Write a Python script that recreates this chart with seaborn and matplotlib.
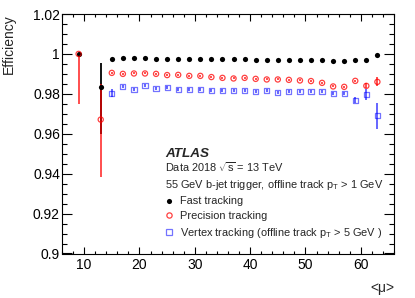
import numpy as np
import pandas as pd
import matplotlib
matplotlib.use("Agg")
import matplotlib.pyplot as plt
import seaborn as sns
from matplotlib.ticker import MultipleLocator, FuncFormatter
from matplotlib.lines import Line2D

# pile-up bins
mu_low = [9, 13]
mu_main = list(range(15, 64, 2))

# Fast tracking (black)
fast = [1.0, 0.9835,
        0.9974, 0.9979, 0.9978, 0.9979, 0.9976, 0.9976, 0.9976, 0.9974, 0.9973,
        0.9974, 0.9974, 0.9974, 0.9974, 0.9971, 0.9971, 0.9971, 0.9971, 0.9971,
        0.9968, 0.9968, 0.9963, 0.9964, 0.9969, 0.9971, 0.9994]
fast_lo = [0.0, 0.0235] + [0.0003] * 24 + [0.001]
fast_hi = [0.0, 0.0117] + [0.0003] * 24 + [0.0005]

# Precision tracking (red)
prec = [1.0, 0.9671,
        0.9905, 0.9900, 0.9902, 0.9902, 0.9900, 0.9894, 0.9895, 0.9890, 0.9890,
        0.9884, 0.9880, 0.9877, 0.9880, 0.9875, 0.9872, 0.9872, 0.9870, 0.9867,
        0.9864, 0.9855, 0.9837, 0.9835, 0.9865, 0.9840, 0.9860]
prec_lo = [0.025, 0.029] + [0.0005] * 23 + [0.0012, 0.0023]
prec_hi = [0.0, 0.018] + [0.0005] * 23 + [0.0012, 0.0023]

# Vertex tracking (blue), starts at mu = 15
vtx = [0.9802, 0.9835, 0.9822, 0.9840, 0.9825, 0.9833, 0.9823, 0.9820, 0.9822,
       0.9815, 0.9817, 0.9818, 0.9818, 0.9813, 0.9818, 0.9808, 0.9813, 0.9810,
       0.9810, 0.9810, 0.9800, 0.9803, 0.9767, 0.9795, 0.9691]
vtx_err = [0.002] + [0.0008] * 21 + [0.0015, 0.0027, 0.0065]

mu_all = mu_low + mu_main
df_fast = pd.DataFrame({"mu": mu_all, "eff": fast})
df_prec = pd.DataFrame({"mu": mu_all, "eff": prec})
df_vtx = pd.DataFrame({"mu": mu_main, "eff": vtx})

sns.set_theme(style="ticks")
plt.rcParams["font.family"] = ["Liberation Sans", "DejaVu Sans"]
plt.rcParams["mathtext.fontset"] = "custom"
plt.rcParams["mathtext.rm"] = "Liberation Sans"
plt.rcParams["mathtext.it"] = "Liberation Sans:italic"

red = (1.0, 0.0, 0.0, 0.75)
blue = (0.0, 0.0, 1.0, 0.55)

fig = plt.figure(figsize=(4.15, 2.98), dpi=100)
ax = fig.add_axes([62 / 415, 1 - 253.5 / 298, 332 / 415, 239.5 / 298])

# error bars
ax.errorbar(mu_all, fast, yerr=[fast_lo, fast_hi], fmt="none", ecolor="black", elinewidth=1.3, capsize=0, zorder=2)
ax.errorbar(mu_all, prec, yerr=[prec_lo, prec_hi], fmt="none", ecolor=red, elinewidth=1.3, capsize=0, zorder=3)
ax.errorbar(mu_main, vtx, yerr=vtx_err, fmt="none", ecolor=(0, 0, 1, 0.7), elinewidth=1.2, capsize=0, zorder=4)

# markers
sns.scatterplot(data=df_fast, x="mu", y="eff", ax=ax, color="black", marker="o", s=14, linewidth=0, zorder=5)
sns.scatterplot(data=df_prec, x="mu", y="eff", ax=ax, marker="o", s=14, facecolor="none", edgecolor=red, linewidth=0.9, zorder=6)
sns.scatterplot(data=df_vtx, x="mu", y="eff", ax=ax, marker="s", s=14, facecolor="none", edgecolor=blue, linewidth=0.9, zorder=7)

ax.set_xlim(6, 66)
ax.set_ylim(0.9, 1.02)
ax.xaxis.set_major_locator(MultipleLocator(10))
ax.xaxis.set_minor_locator(MultipleLocator(2))
ax.yaxis.set_major_locator(MultipleLocator(0.02))
ax.yaxis.set_minor_locator(MultipleLocator(0.005))
ax.yaxis.set_major_formatter(FuncFormatter(lambda v, p: "%g" % round(v, 3)))
ax.xaxis.set_major_formatter(FuncFormatter(lambda v, p: "%g" % v))

ax.tick_params(axis="both", which="both", direction="in", top=True, right=True, colors="black", width=0.8)
ax.tick_params(axis="y", which="major", length=7.2, pad=1.5, labelsize=10)
ax.tick_params(axis="y", which="minor", length=3.6)
ax.tick_params(axis="x", which="major", length=5, pad=3, labelsize=10)
ax.tick_params(axis="x", which="minor", length=2.5)
for sp in ax.spines.values():
    sp.set_linewidth(0.8)
    sp.set_color("black")

ax.set_ylabel("Efficiency", fontsize=10, loc="top")
ax.yaxis.set_label_coords(-0.139, 1.0)
ax.set_xlabel("<μ>", fontsize=10, loc="right")
ax.xaxis.set_label_coords(1.0, -0.115)

fig.text(165 / 415, 1 - 157 / 298, "ATLAS", fontsize=9.7, fontweight="bold", fontstyle="italic", va="baseline")
fig.text(165 / 415, 1 - 172.3 / 298, r"Data 2018 $\sqrt{\mathrm{s}}$ = 13 TeV", fontsize=7.9, va="baseline")
fig.text(165 / 415, 1 - 187.7 / 298, r"55 GeV b-jet trigger, offline track p$_{\mathrm{T}}$ > 1 GeV", fontsize=7.9, va="baseline")

handles = [
    Line2D([], [], ls="none", marker="o", color="black", markersize=3.7, markeredgewidth=0),
    Line2D([], [], ls="none", marker="o", markerfacecolor="none", markeredgecolor=red, markersize=3.8, markeredgewidth=0.9),
    Line2D([], [], ls="none", marker="s", markerfacecolor="none", markeredgecolor=blue, markersize=3.8, markeredgewidth=0.9),
]
labels = ["Fast tracking", "Precision tracking",
          r"Vertex tracking (offline track p$_{\mathrm{T}}$ > 5 GeV )"]
ax.legend(handles, labels, loc="upper left", bbox_to_anchor=(163.5 / 415, 1 - 196.5 / 298),
          bbox_transform=fig.transFigure, frameon=False, fontsize=7.9,
          handlelength=1.0, handletextpad=0.5, labelspacing=0.42, borderpad=0, borderaxespad=0)

fig.savefig("out.png", dpi=100)
